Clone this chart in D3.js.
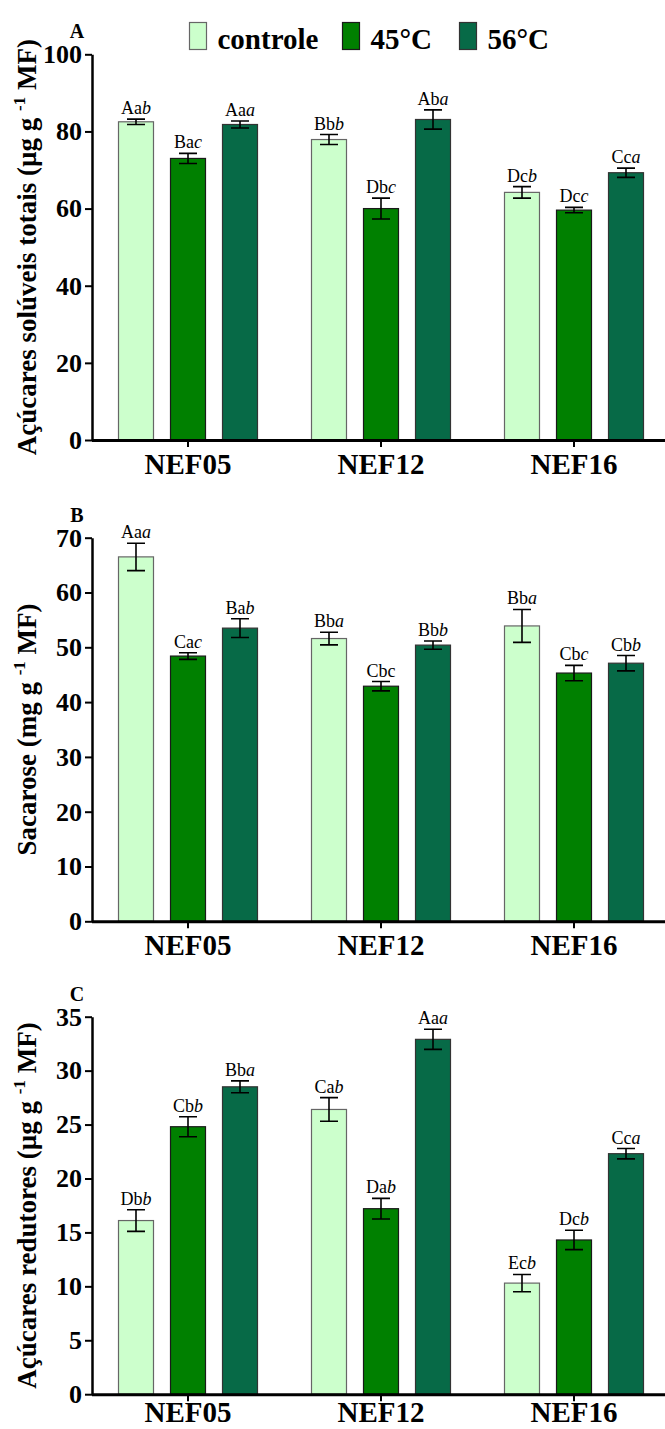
<!DOCTYPE html>
<html>
<head>
<meta charset="utf-8">
<script src="https://cdn.jsdelivr.net/npm/d3@7"></script>
<style>
  html, body { margin: 0; padding: 0; background: #fff; }
  svg { display: block; font-family: "Liberation Serif", "Times New Roman", serif; }
  svg text { font-family: "Liberation Serif", "Times New Roman", serif; }
</style>
</head>
<body>
<div id="chart"></div>
<script>
// groups and treatments
const groups = ["NEF05", "NEF12", "NEF16"];
const series = ["controle", "45°C", "56°C"];

// A - total soluble sugars (per group: controle, 45, 56)
const totalSugars    = [[82.5, 73.0, 81.8], [77.9, 60.0, 83.1], [64.2, 59.6, 69.3]];
const totalSugarsErr = [[0.7, 1.3, 0.9], [1.3, 2.7, 2.5], [1.5, 0.7, 1.2]];
const totalSugarsLbl = [["Aa_b", "Ba_c", "Aa_a"], ["Bb_b", "Db_c", "Ab_a"], ["Dc_b", "Dc_c", "Cc_a"]];
const totalTicks = [0, 20, 40, 60, 80, 100];

// B - sucrose
const sucrose    = [[66.5, 48.4, 53.5], [51.6, 42.9, 50.4], [53.9, 45.3, 47.1]];
const sucroseErr = [[2.5, 0.6, 1.7], [1.15, 0.85, 0.75], [3.0, 1.4, 1.4]];
const sucroseLbl = [["Aa_a", "Ca_c", "Ba_b"], ["Bb_a", "Cbc", "Bb_b"], ["Bb_a", "Cb_c", "Cb_b"]];
const sucroseTicks = [0, 10, 20, 30, 40, 50, 60, 70];

// C - reducing sugars
const reducing    = [[16.1, 24.8, 28.5], [26.4, 17.2, 32.9], [10.3, 14.3, 22.3]];
const reducingErr = [[1.0, 0.93, 0.55], [1.1, 0.96, 0.93], [0.8, 0.9, 0.48]];
const reducingLbl = [["Db_b", "Cb_b", "Bb_a"], ["Ca_b", "Da_b", "Aa_a"], ["Ec_b", "Dc_b", "Cc_a"]];
const reducingTicks = [0, 5, 10, 15, 20, 25, 30, 35];

const fills   = ["#ccffcc", "#008000", "#076a47"];
const strokes = ["#666", "#1a1a1a", "#333"];

const W = 665, H = 1429;
const svg = d3.select("#chart").append("svg").attr("width", W).attr("height", H);

const x0 = d3.scaleBand().domain(groups).range([91.5, 670.5]);
const x1 = d3.scaleBand().domain(series).range([-69.5, 69.5]).paddingInner(0.327);

function drawPanel(cfg) {
  const y = d3.scaleLinear().domain([0, cfg.max]).range([cfg.bottom, cfg.top]);
  const g = svg.append("g");

  // bars
  cfg.values.forEach((row, gi) => {
    row.forEach((v, si) => {
      const cx = x0(groups[gi]) + x0.bandwidth() / 2;
      const bx = cx + x1(series[si]);
      g.append("rect")
        .attr("x", bx).attr("y", y(v))
        .attr("width", x1.bandwidth()).attr("height", y(0) - y(v))
        .attr("fill", fills[si]).attr("stroke", strokes[si]).attr("stroke-width", 1.2);

      const mid = bx + x1.bandwidth() / 2;
      const e = cfg.errors[gi][si];
      g.append("path")
        .attr("d", `M${mid - 9},${y(v + e)}H${mid + 9}M${mid},${y(v + e)}V${y(v - e)}M${mid - 9},${y(v - e)}H${mid + 9}`)
        .attr("stroke", "#000").attr("stroke-width", 1.6).attr("fill", "none");

      const lab = cfg.labels[gi][si].split("_");
      const t = g.append("text")
        .attr("x", mid).attr("y", y(v + e) - 5)
        .attr("text-anchor", "middle").attr("font-size", 18);
      t.append("tspan").text(lab[0]);
      if (lab[1]) t.append("tspan").attr("font-style", "italic").text(lab[1]);
    });
  });

  // y axis
  const ya = g.append("g").attr("transform", "translate(92,0)")
    .call(d3.axisLeft(y).tickValues(cfg.ticks).tickSize(7).tickSizeOuter(0).tickPadding(3));
  ya.attr("font-family", null);
  ya.select(".domain").attr("stroke-width", 2.5);
  ya.selectAll(".tick line").attr("stroke-width", 2);
  ya.selectAll(".tick text").attr("font-size", 26).attr("font-weight", "bold").attr("fill", "#000");

  // x axis
  const xa = g.append("g").attr("transform", `translate(0,${cfg.bottom})`)
    .call(d3.axisBottom(x0).tickSize(7).tickSizeOuter(0).tickPadding(cfg.xPad));
  xa.attr("font-family", null);
  xa.select(".domain").attr("stroke-width", 3);
  xa.selectAll(".tick line").attr("stroke-width", 2);
  xa.selectAll(".tick text").attr("font-size", 29).attr("font-weight", "bold").attr("fill", "#000");

  // panel letter
  g.append("text").attr("x", 77).attr("y", cfg.top - 16)
    .attr("text-anchor", "middle").attr("font-size", 20).attr("font-weight", "bold")
    .text(cfg.letter);

  // y title
  const cy = (cfg.top + cfg.bottom) / 2;
  const tt = g.append("text")
    .attr("transform", `translate(36,${cy}) rotate(-90)`)
    .attr("text-anchor", "middle").attr("font-size", 27).attr("font-weight", "bold");
  tt.append("tspan").text(cfg.title + " (" + cfg.unit + " g ");
  tt.append("tspan").attr("font-size", 17).attr("dy", -11).text("-1");
  tt.append("tspan").attr("dy", 11).text(" MF)");
}

drawPanel({
  letter: "A", top: 54.3, bottom: 440, max: 100, ticks: totalTicks, xPad: 6,
  values: totalSugars, errors: totalSugarsErr, labels: totalSugarsLbl,
  title: "Açúcares solúveis totais", unit: "µg"
});
drawPanel({
  letter: "B", top: 537.7, bottom: 921.3, max: 70, ticks: sucroseTicks, xPad: 6,
  values: sucrose, errors: sucroseErr, labels: sucroseLbl,
  title: "Sacarose", unit: "mg"
});
drawPanel({
  letter: "C", top: 1016.7, bottom: 1394.2, max: 35, ticks: reducingTicks, xPad: 0,
  values: reducing, errors: reducingErr, labels: reducingLbl,
  title: "Açúcares redutores", unit: "µg"
});

// legend
const leg = svg.append("g").attr("font-size", 29).attr("font-weight", "bold");
const legX = [189.5, 342.5, 459.5];
series.forEach((s, i) => {
  leg.append("rect").attr("x", legX[i]).attr("y", 22.5).attr("width", 17).attr("height", 27)
    .attr("fill", fills[i]).attr("stroke", strokes[i]).attr("stroke-width", 1.2);
  leg.append("text").attr("x", legX[i] + 28).attr("y", 49).text(s);
});
</script>
</body>
</html>
